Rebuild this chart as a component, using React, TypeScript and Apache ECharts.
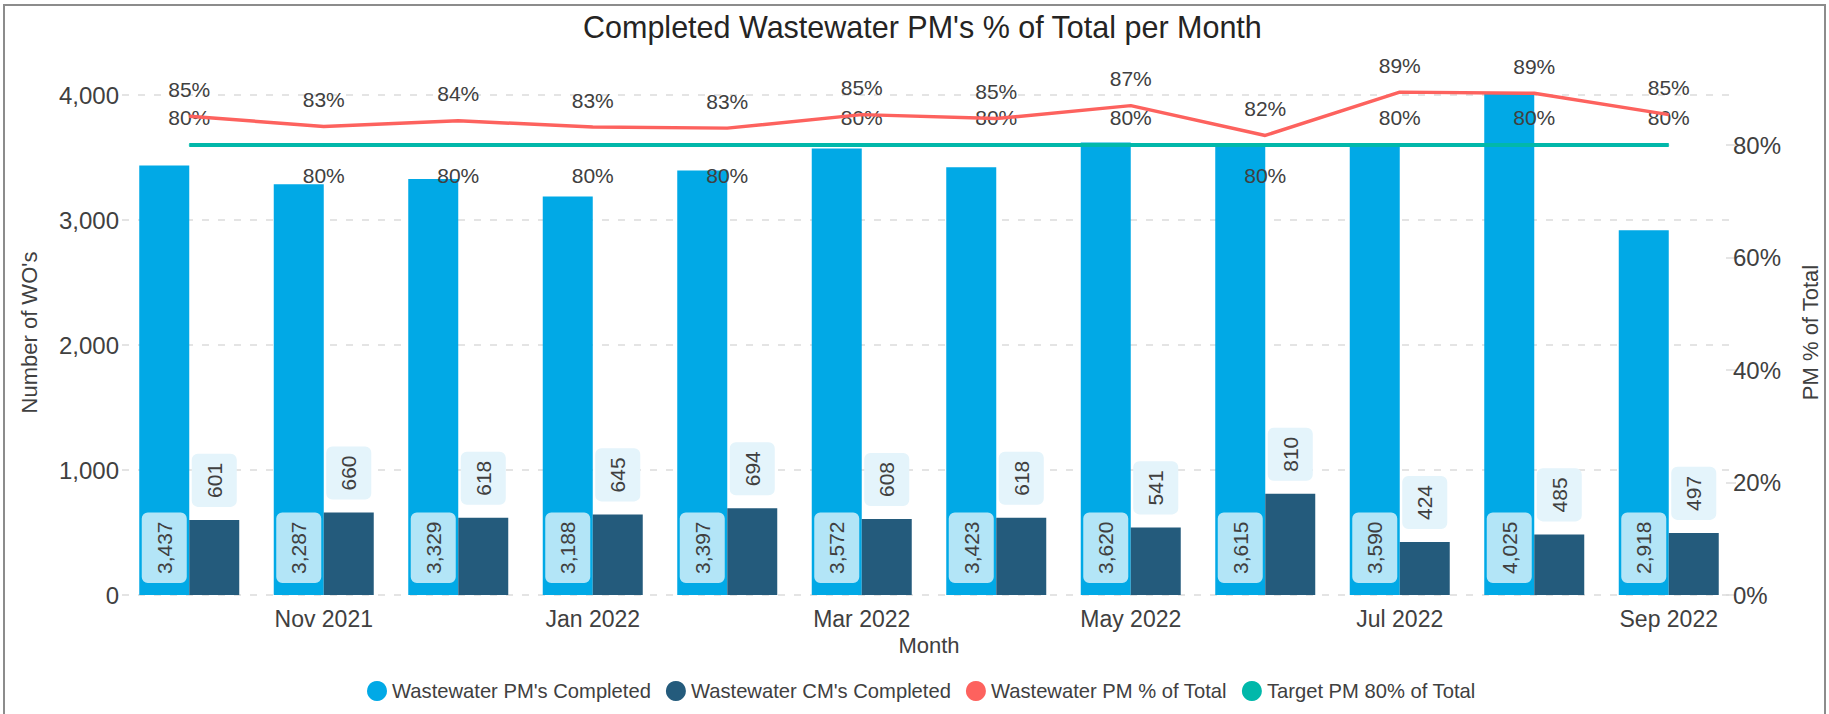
import React, { useEffect, useRef } from "react";
import * as echarts from "echarts";

const months = [
  "Oct 2021", "Nov 2021", "Dec 2021", "Jan 2022", "Feb 2022", "Mar 2022",
  "Apr 2022", "May 2022", "Jun 2022", "Jul 2022", "Aug 2022", "Sep 2022",
];
const pmCompleted = [3437, 3287, 3329, 3188, 3397, 3572, 3423, 3620, 3615, 3590, 4025, 2918];
const cmCompleted = [601, 660, 618, 645, 694, 608, 618, 541, 810, 424, 485, 497];
const pmPercent = [0.851, 0.833, 0.843, 0.832, 0.830, 0.854, 0.847, 0.870, 0.817, 0.894, 0.892, 0.854];
const targetPercent = [0.8, 0.8, 0.8, 0.8, 0.8, 0.8, 0.8, 0.8, 0.8, 0.8, 0.8, 0.8];
const targetLabelBelow = ["Nov 2021", "Dec 2021", "Jan 2022", "Feb 2022", "Jun 2022"];

const FONT = "'Liberation Sans', Arial, sans-serif";
const TXT = "#404040";

export default function App() {
  const ref = useRef<HTMLDivElement>(null);
  useEffect(() => {
    document.body.style.margin = "0";
    const chart = echarts.init(ref.current!, null, { renderer: "svg" });
    const fmtNum = (v: number) => Number(v).toLocaleString("en-US");
    const fmtPct = (v: number) => Math.round(v * 100) + "%";
    chart.setOption({
      animation: false,
      textStyle: { fontFamily: FONT },
      graphic: [
        {
          type: "rect",
          shape: { x: 4, y: 5, width: 1821, height: 760 },
          style: { fill: "none", stroke: "#8c8c8c", lineWidth: 2 },
          silent: true,
        },
      ],
      title: {
        text: "Completed Wastewater PM's % of Total per Month",
        left: 578,
        top: 6,
        textStyle: { fontSize: 30.5, fontWeight: "normal", color: "#252423", fontFamily: FONT },
      },
      legend: {
        left: 362,
        top: 676,
        icon: "circle",
        itemWidth: 20,
        itemHeight: 20,
        itemGap: 15,
        textStyle: { fontSize: 20.2, color: TXT, fontFamily: FONT },
        data: [
          "Wastewater PM's Completed",
          "Wastewater CM's Completed",
          "Wastewater PM % of Total",
          "Target PM 80% of Total",
        ],
      },
      grid: { left: 122, right: 89, top: 70, bottom: 119 },
      xAxis: {
        type: "category",
        data: months,
        axisLine: { show: false },
        axisTick: { show: false },
        axisLabel: {
          interval: (i: number) => i % 2 === 1,
          fontSize: 23,
          color: TXT,
          margin: 12,
          fontFamily: FONT,
        },
        name: "Month",
        nameLocation: "middle",
        nameGap: 38,
        nameTextStyle: { fontSize: 22, color: TXT, fontFamily: FONT },
      },
      yAxis: [
        {
          type: "value",
          min: 0,
          max: 4200,
          interval: 1000,
          position: "left",
          name: "Number of WO's",
          nameLocation: "middle",
          nameGap: 82,
          nameTextStyle: { fontSize: 22, color: TXT, fontFamily: FONT },
          axisLine: { show: false },
          axisTick: { show: false },
          axisLabel: {
            fontSize: 24,
            color: TXT,
            margin: 3,
            showMaxLabel: false,
            formatter: fmtNum,
            fontFamily: FONT,
          },
          splitLine: {
            show: true,
            showMaxLine: false,
            lineStyle: { type: [7, 9], color: "#dcdcdc", width: 1.5 },
          },
        },
        {
          type: "value",
          min: 0,
          max: 0.9333333,
          interval: 0.2,
          position: "right",
          name: "PM % of Total",
          nameLocation: "middle",
          nameGap: 63,
          nameTextStyle: { fontSize: 22, color: TXT, fontFamily: FONT },
          axisLine: { show: false },
          axisTick: { show: true, inside: true, length: 10, lineStyle: { color: "#dcdcdc", width: 1.5 } },
          axisLabel: {
            fontSize: 24,
            color: TXT,
            margin: -3,
            showMaxLabel: false,
            formatter: fmtPct,
            fontFamily: FONT,
          },
          splitLine: { show: false },
        },
      ],
      series: [
        {
          name: "Wastewater PM's Completed",
          type: "bar",
          data: pmCompleted,
          barWidth: 50,
          barGap: "0%",
          color: "#01A9E6",
          itemStyle: { color: "#01A9E6" },
          label: {
            show: true,
            position: "insideBottom",
            distance: 12,
            rotate: 90,
            align: "left",
            verticalAlign: "middle",
            fontSize: 21,
            color: TXT,
            fontFamily: FONT,
            backgroundColor: "#b3e5f7",
            borderRadius: 6,
            padding: [12, 9],
            formatter: (p: any) => fmtNum(p.value),
          },
        },
        {
          name: "Wastewater CM's Completed",
          type: "bar",
          data: cmCompleted,
          barWidth: 50,
          barGap: "0%",
          color: "#245B7C",
          itemStyle: { color: "#245B7C" },
          label: {
            show: true,
            position: "top",
            distance: 13,
            rotate: 90,
            align: "left",
            verticalAlign: "middle",
            fontSize: 21,
            color: TXT,
            fontFamily: FONT,
            backgroundColor: "#e4f4fb",
            borderRadius: 6,
            padding: [12, 9],
            formatter: (p: any) => fmtNum(p.value),
          },
        },
        {
          name: "Wastewater PM % of Total",
          type: "line",
          yAxisIndex: 1,
          data: pmPercent,
          color: "#FD625E",
          symbol: "circle",
          symbolSize: 1,
          showSymbol: true,
          itemStyle: { color: "#FD625E" },
          lineStyle: { color: "#FD625E", width: 3.5 },
          label: {
            show: true,
            position: "top",
            distance: 16,
            fontSize: 21,
            color: TXT,
            fontFamily: FONT,
            formatter: (p: any) => fmtPct(p.value),
          },
          z: 5,
        },
        {
          name: "Target PM 80% of Total",
          type: "line",
          yAxisIndex: 1,
          data: targetPercent.map((v, i) => ({
            value: v,
            label: targetLabelBelow.includes(months[i])
              ? { position: "bottom", distance: 19 }
              : { position: "top", distance: 17 },
          })),
          color: "#01B8AA",
          symbol: "circle",
          symbolSize: 1,
          showSymbol: true,
          itemStyle: { color: "#01B8AA" },
          lineStyle: { color: "#01B8AA", width: 4 },
          label: {
            show: true,
            fontSize: 21,
            color: TXT,
            fontFamily: FONT,
            formatter: (p: any) => fmtPct(p.value),
          },
          z: 4,
        },
      ],
    });
    return () => chart.dispose();
  }, []);
  return <div ref={ref} style={{ width: 1829, height: 714 }} />;
}
